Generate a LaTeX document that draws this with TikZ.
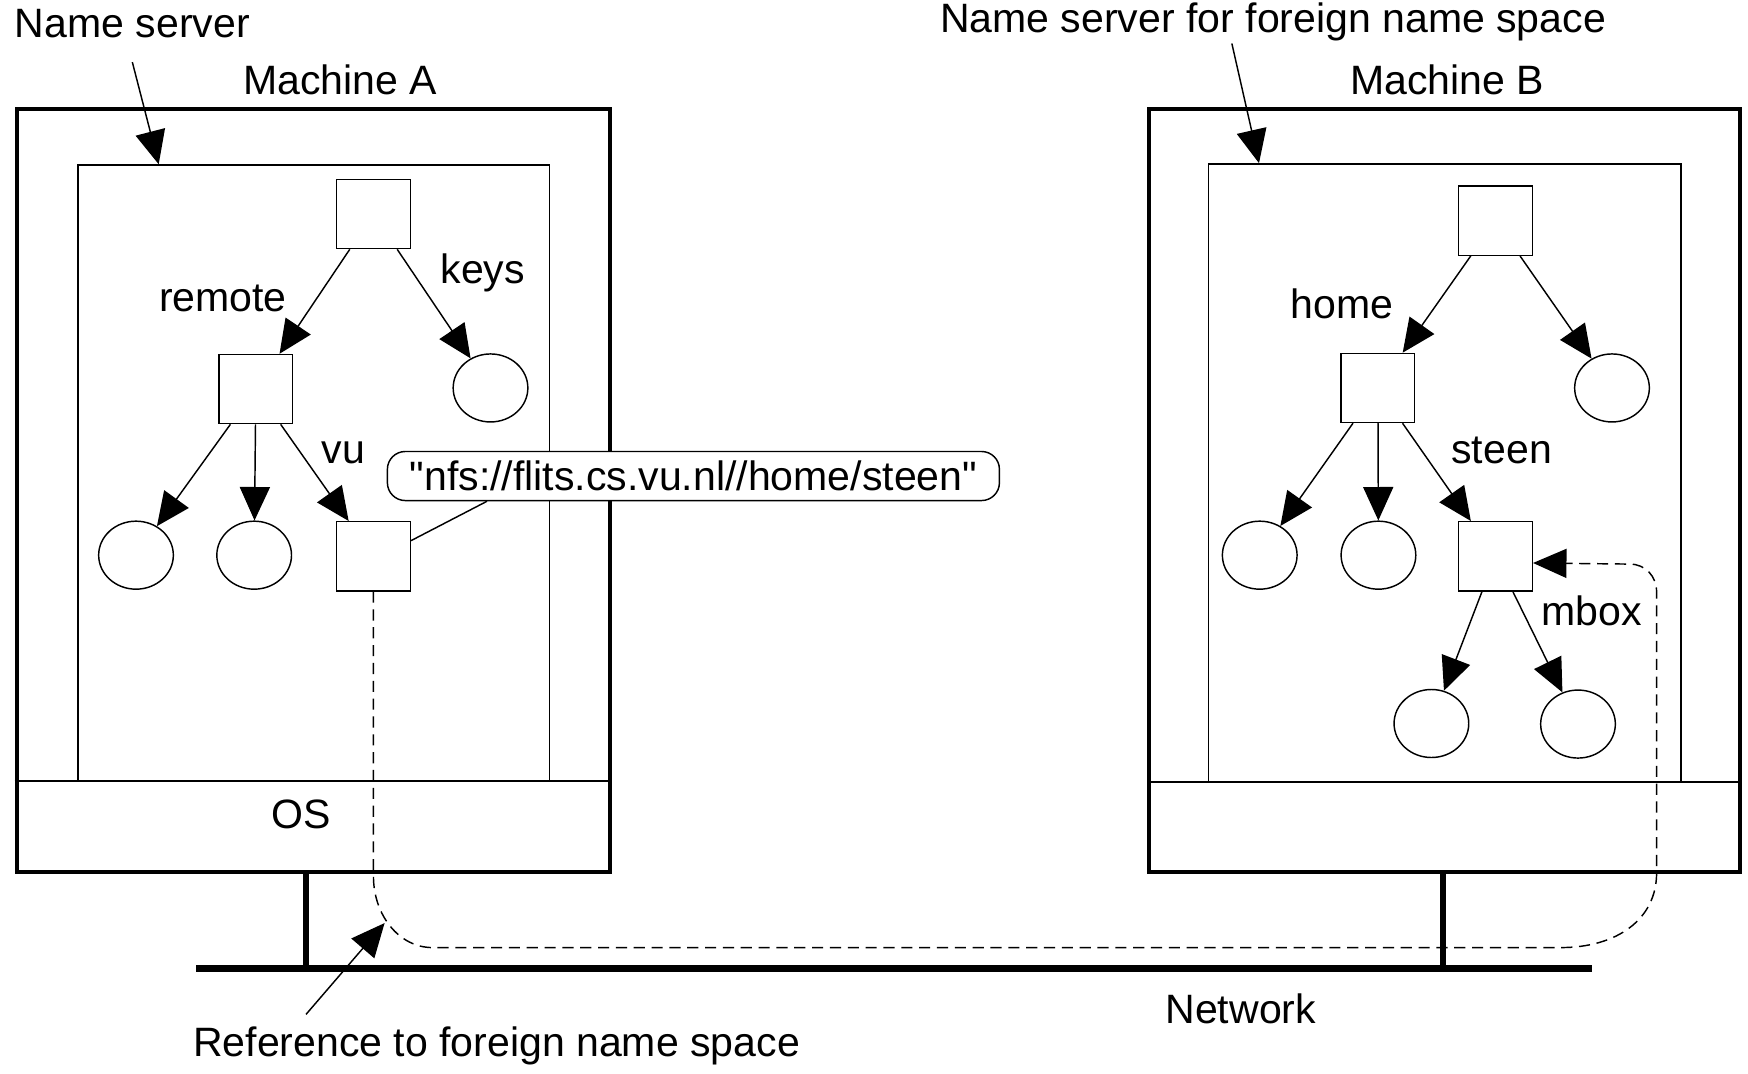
\documentclass[tikz,border=0pt]{standalone}
\usepackage{fontspec}
\setmainfont{Liberation Sans}[Ligatures=TeXOff]
\usetikzlibrary{arrows.meta,shapes.geometric}
\begin{document}
\begin{tikzpicture}[x=0.5pt,y=-0.5pt,
  every node/.style={font=\fontsize{18.4pt}{22pt}\selectfont, inner sep=0pt},
  sq/.style={draw, line width=0.65pt, minimum width=33pt, minimum height=31pt},
  leaf/.style={draw, ellipse, line width=0.65pt, minimum width=33.5pt, minimum height=30.5pt},
  arr/.style={line width=0.65pt, -{Triangle[length=15pt,width=13.5pt]}},
  thinline/.style={line width=0.65pt},
  machine/.style={draw, line width=1.8pt, minimum height=342pt},
  nsbox/.style={draw, line width=0.65pt},
  wire/.style={line width=2.8pt},
  refline/.style={line width=0.65pt, dash pattern=on 5pt off 3pt, -{Triangle[length=15pt,width=13pt]}},
  lbl/.style={anchor=base}
]
\useasboundingbox (0,0) rectangle (1568,963);

% machines
\node[machine, minimum width=266pt] (mA) at (281,440) {};
\node[machine, minimum width=265pt] (mB) at (1296,440) {};
\node[nsbox, minimum width=211.5pt, minimum height=276pt] (nsA) at (281.5,424) {};
\node[nsbox, minimum width=212pt, minimum height=277pt] (nsB) at (1296,424) {};
\draw[thinline] (mA.west |- nsA.south) -- (mA.east |- nsA.south);
\draw[thinline] (mB.west |- nsB.south) -- (mB.east |- nsB.south);

% titles
\node[lbl] (tMA) at (305,85) {Machine A};
\node[lbl] (tMB) at (1298,85) {Machine B};
\node[lbl, anchor=base west] (tNS) at (13,34) {Name server};
\node[lbl] (tNSB) at (1142,29) {Name server for foreign name space};
\node[lbl] (tOS) at (270,743) {OS};

\draw[arr] ([yshift=-10.5pt]tNS.south) -- ([xshift=36.5pt]nsA.north west);
\draw[arr] ([xshift=-18.5pt,yshift=-1pt]tNSB.south) -- ([xshift=23pt]nsB.north west);

% tree A
\node[sq] (rA) at (335,192) {};
\node[sq] (remote) at (229.5,349) {};
\node[leaf] (keys) at (440,348) {};
\node[leaf] (a1) at (122,498) {};
\node[leaf] (a2) at (228,498) {};
\node[sq] (vu) at (335,499) {};
\draw[arr] (rA) -- (remote);
\draw[arr] (rA) -- (keys);
\draw[arr] (remote) -- (a1);
\draw[arr] (remote) -- (a2);
\draw[arr] (remote) -- (vu);
\node[lbl] (lremote) at (200,279) {remote};
\node[lbl] (lkeys) at (433,254) {keys};
\node[lbl] (lvu) at (308,416) {vu};

% tree B
\node[sq] (rB) at (1341.5,198) {};
\node[sq] (home) at (1236,348) {};
\node[leaf] (bR) at (1446,348) {};
\node[leaf] (b1) at (1130,498) {};
\node[leaf] (b2) at (1236.5,498) {};
\node[sq] (steen) at (1341.5,499) {};
\node[leaf] (m1) at (1284,649) {};
\node[leaf] (m2) at (1415.5,649.5) {};
\draw[arr] (rB) -- (home);
\draw[arr] (rB) -- (bR);
\draw[arr] (home) -- (b1);
\draw[arr] (home) -- (b2);
\draw[arr] (home) -- (steen);
\draw[arr] (steen) -- (m1);
\draw[arr] (steen) -- (m2);
\node[lbl] (lhome) at (1204,286) {home};
\node[lbl] (lsteen) at (1347,416) {steen};
\node[lbl] (lmbox) at (1428,561) {mbox};

% callout
\node[draw, line width=0.65pt, rounded corners=8pt, minimum width=274.5pt, minimum height=22pt, fill=white] (call) at (622,427) {"nfs://flits.cs.vu.nl//home/steen"};
\draw[thinline] ([xshift=45pt]call.south west) -- ([yshift=7pt]vu.east);

% reference path
\draw[refline] (vu.south) -- (335,786) .. controls (335,821) and (358,850) .. (388,850)
  -- (1400,850) .. controls (1450,850) and (1486,825) .. (1486,783)
  -- (1486,531) .. controls (1486,517) and (1476,506) .. (1462,506)
  -- ([yshift=-3pt]steen.east);

% network
\coordinate (netL) at (176,869);
\coordinate (netR) at (1428,869);
\draw[wire] ([xshift=-3.25pt]mA.south) -- ([xshift=-3.25pt]mA.south |- netL);
\draw[wire] ([xshift=-0.75pt]mB.south) -- ([xshift=-0.75pt]mB.south |- netL);
\draw[line width=3pt] (netL) -- (netR);
\node[lbl] (tnet) at (1113,918) {Network};

% reference label
\node[lbl, anchor=base west] (tref) at (173,948) {Reference to foreign name space};
\coordinate (refpt) at (345,828);
\draw[arr] ([xshift=50.75pt,yshift=5.5pt]tref.north west) -- (refpt);
\end{tikzpicture}
\end{document}
